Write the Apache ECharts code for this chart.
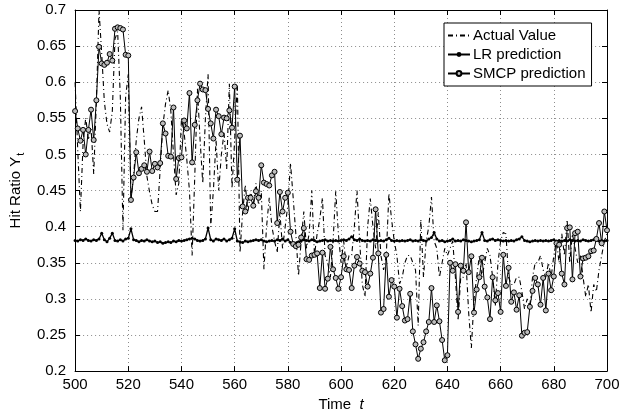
<!DOCTYPE html>
<html><head><meta charset="utf-8">
<script src="https://cdn.jsdelivr.net/npm/echarts@6/dist/echarts.min.js"></script>
<style>html,body{margin:0;padding:0;background:#fff}#c{width:629px;height:417px}</style>
</head><body><div id="c"></div>
<script>
const startT = 500;
const xTicks = [500,520,540,560,580,600,620,640,660,680,700];
const yTicks = [0.2,0.25,0.3,0.35,0.4,0.45,0.5,0.55,0.6,0.65,0.7];
const seriesNames = ['Actual Value','LR prediction','SMCP prediction'];

const actualValue = [
0.600,0.506,0.421,0.515,0.551,0.520,0.537,0.473,0.573,0.700,
0.640,0.573,0.542,0.531,0.560,0.660,0.670,0.580,0.395,0.580,
0.611,0.440,0.470,0.520,0.550,0.566,0.520,0.470,0.448,0.430,
0.421,0.421,0.480,0.540,0.570,0.589,0.560,0.500,0.444,0.460,
0.550,0.530,0.493,0.450,0.360,0.470,0.591,0.520,0.460,0.550,
0.611,0.400,0.450,0.520,0.450,0.500,0.530,0.480,0.598,0.453,
0.520,0.600,0.364,0.420,0.458,0.420,0.450,0.430,0.460,0.430,
0.450,0.341,0.400,0.440,0.400,0.380,0.364,0.420,0.370,0.400,
0.430,0.488,0.440,0.390,0.332,0.380,0.421,0.370,0.390,0.450,
0.360,0.390,0.410,0.440,0.360,0.350,0.330,0.380,0.449,0.390,
0.350,0.380,0.343,0.360,0.360,0.400,0.450,0.380,0.320,0.303,
0.400,0.439,0.400,0.370,0.420,0.360,0.340,0.360,0.446,0.410,
0.380,0.360,0.321,0.330,0.350,0.360,0.360,0.350,0.340,0.263,
0.410,0.330,0.380,0.400,0.441,0.380,0.370,0.330,0.350,0.370,
0.360,0.370,0.380,0.330,0.270,0.330,0.330,0.350,0.280,0.232,
0.300,0.330,0.360,0.330,0.350,0.370,0.360,0.330,0.290,0.350,
0.380,0.392,0.390,0.330,0.320,0.320,0.330,0.330,0.310,0.286,
0.300,0.290,0.330,0.350,0.350,0.360,0.340,0.330,0.350,0.330,
0.360,0.380,0.350,0.390,0.360,0.410,0.350,0.390,0.370,0.350,
0.360,0.330,0.303,0.320,0.281,0.320,0.310,0.340,0.360,0.380,
0.390];

const lrPrediction = [
0.381,0.380,0.382,0.381,0.383,0.381,0.380,0.382,0.381,0.383,
0.391,0.382,0.379,0.384,0.391,0.381,0.380,0.382,0.380,0.383,
0.384,0.397,0.382,0.381,0.379,0.381,0.380,0.382,0.380,0.379,
0.380,0.378,0.379,0.377,0.378,0.379,0.378,0.380,0.379,0.381,
0.380,0.381,0.382,0.383,0.384,0.383,0.381,0.380,0.381,0.383,
0.398,0.382,0.380,0.383,0.382,0.381,0.383,0.380,0.382,0.384,
0.397,0.380,0.379,0.378,0.380,0.379,0.380,0.381,0.382,0.381,
0.382,0.380,0.379,0.380,0.381,0.380,0.382,0.381,0.383,0.380,
0.382,0.378,0.376,0.377,0.379,0.380,0.382,0.381,0.380,0.382,
0.381,0.379,0.380,0.381,0.382,0.380,0.381,0.380,0.381,0.380,
0.381,0.382,0.381,0.383,0.386,0.382,0.381,0.383,0.381,0.380,
0.381,0.380,0.382,0.381,0.380,0.381,0.380,0.382,0.384,0.381,
0.380,0.381,0.380,0.381,0.380,0.381,0.382,0.380,0.381,0.380,
0.382,0.381,0.380,0.383,0.385,0.392,0.383,0.380,0.381,0.379,
0.380,0.381,0.383,0.380,0.381,0.380,0.382,0.381,0.380,0.379,
0.380,0.381,0.382,0.392,0.381,0.380,0.382,0.383,0.381,0.382,
0.381,0.380,0.381,0.380,0.381,0.380,0.382,0.383,0.386,0.381,
0.380,0.379,0.380,0.381,0.380,0.381,0.380,0.381,0.380,0.381,
0.382,0.380,0.381,0.380,0.381,0.380,0.382,0.381,0.380,0.381,
0.380,0.382,0.381,0.380,0.381,0.382,0.381,0.380,0.381,0.380,
0.381];

const smcpPrediction = [
0.560,0.536,0.519,0.534,0.500,0.534,0.562,0.520,0.575,0.649,
0.626,0.624,0.627,0.639,0.630,0.674,0.676,0.675,0.673,0.638,
0.637,0.437,0.468,0.503,0.474,0.480,0.485,0.476,0.504,0.477,
0.487,0.482,0.488,0.543,0.529,0.498,0.497,0.565,0.466,0.495,
0.496,0.547,0.536,0.585,0.489,0.541,0.575,0.598,0.590,0.589,
0.563,0.543,0.522,0.562,0.553,0.528,0.551,0.550,0.561,0.537,
0.594,0.465,0.526,0.428,0.421,0.440,0.440,0.429,0.449,0.440,
0.485,0.461,0.459,0.457,0.471,0.476,0.405,0.448,0.421,0.440,
0.447,0.393,0.376,0.373,0.375,0.385,0.398,0.355,0.354,0.360,
0.361,0.363,0.315,0.364,0.314,0.328,0.372,0.341,0.329,0.314,
0.330,0.359,0.341,0.340,0.315,0.346,0.358,0.349,0.339,0.337,
0.317,0.335,0.357,0.424,0.363,0.281,0.286,0.361,0.303,0.326,
0.317,0.274,0.314,0.290,0.270,0.272,0.307,0.255,0.237,0.217,
0.231,0.240,0.255,0.268,0.315,0.268,0.291,0.269,0.243,0.215,
0.222,0.350,0.339,0.348,0.282,0.346,0.339,0.406,0.337,0.359,
0.281,0.313,0.330,0.357,0.317,0.302,0.272,0.330,0.298,0.308,
0.282,0.361,0.318,0.343,0.296,0.309,0.285,0.305,0.249,0.253,
0.254,0.289,0.311,0.329,0.320,0.292,0.329,0.284,0.335,0.312,
0.331,0.377,0.375,0.335,0.320,0.398,0.399,0.327,0.391,0.393,
0.331,0.356,0.357,0.359,0.366,0.367,0.383,0.405,0.377,0.421,
0.395];

function pairs(arr){ return arr.map((v,i)=>[startT+i, v]); }

const FONT = 'Liberation Sans, Arial, sans-serif';
const chart = echarts.init(document.getElementById('c'), null, {renderer:'canvas'});
const axisLine = {show:true, onZero:false, lineStyle:{color:'#000', width:1}};
const gridLine = {show:true, lineStyle:{color:'#8c8c8c', width:1, type:[1,3]}};
const tick = {show:true, inside:true, length:5, lineStyle:{color:'#000'}};

chart.setOption({
  animation:false,
  backgroundColor:'#fff',
  grid:{left:70, right:22, top:10, bottom:33, containLabel:false},
  legend:{
    orient:'vertical', left:444, top:23,
    data:[
      {name:seriesNames[0], itemStyle:{opacity:0}},
      {name:seriesNames[1], itemStyle:{color:'#000', borderWidth:0}},
      {name:seriesNames[2]}
    ],
    backgroundColor:'#fff', borderColor:'#000', borderWidth:1, borderRadius:0,
    padding:[4,6,4,3], itemGap:2, itemWidth:22, itemHeight:6,
    textStyle:{fontFamily:FONT, fontSize:15, color:'#000', padding:[0,0,0,-2], lineHeight:17}
  },
  xAxis:[{
    type:'value', min:500, max:700, interval:20, position:'bottom',
    axisLine:axisLine, axisTick:tick, splitLine:gridLine,
    axisLabel:{fontFamily:FONT, fontSize:15, color:'#000', margin:6},
    name:'{a|Time  }{b|t}', nameLocation:'middle', nameGap:20,
    nameTextStyle:{rich:{a:{fontFamily:FONT, fontSize:15, color:'#000'}, b:{fontFamily:FONT, fontSize:15, fontStyle:'italic', color:'#000'}}}
  },{
    type:'value', min:500, max:700, interval:20, position:'top',
    axisLine:axisLine, axisTick:tick, splitLine:{show:false}, axisLabel:{show:false}
  }],
  yAxis:[{
    type:'value', min:0.2, max:0.7, interval:0.05, position:'left',
    axisLine:axisLine, axisTick:tick, splitLine:gridLine,
    axisLabel:{fontFamily:FONT, fontSize:15, color:'#000', margin:9,
      formatter:(v)=>String(Math.round(v*100)/100)},
    name:'{a|Hit Ratio Y}{b|t}', nameLocation:'middle', nameGap:38, nameRotate:90,
    nameTextStyle:{rich:{
      a:{fontFamily:FONT, fontSize:15, color:'#000', lineHeight:15, verticalAlign:'top'},
      b:{fontFamily:FONT, fontSize:11, color:'#000', padding:[7,0,0,1], verticalAlign:'bottom'}}}
  },{
    type:'value', min:0.2, max:0.7, interval:0.05, position:'right',
    axisLine:axisLine, axisTick:tick, splitLine:{show:false}, axisLabel:{show:false}
  }],
  series:[
    {name:seriesNames[0], type:'line', data:pairs(actualValue), showSymbol:false, symbol:'none',
     lineStyle:{color:'#000', width:1.1, type:[5,3,1,3]}, itemStyle:{color:'#000'}, z:2},
    {name:seriesNames[1], type:'line', data:pairs(lrPrediction), symbol:'circle', symbolSize:3, showSymbol:true,
     lineStyle:{color:'#000', width:1.3}, itemStyle:{color:'#000', borderWidth:0}, z:3},
    {name:seriesNames[2], type:'line', data:pairs(smcpPrediction), symbol:'circle', symbolSize:5, showSymbol:true,
     lineStyle:{color:'#000', width:1}, itemStyle:{color:'#bdbdbd', borderColor:'#000', borderWidth:1}, z:4}
  ]
});
</script></body></html>
